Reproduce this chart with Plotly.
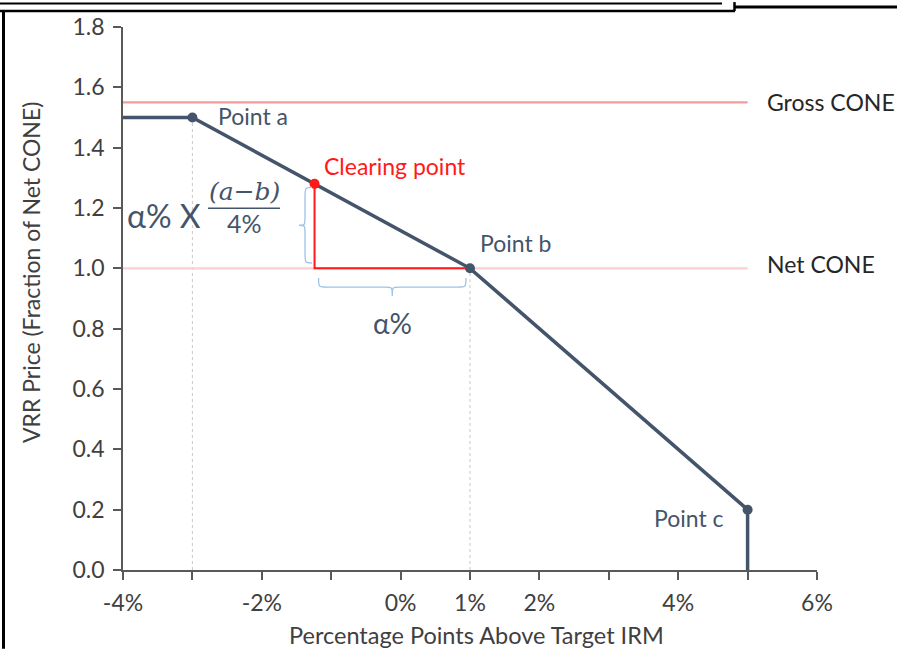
import plotly.graph_objects as go

# ---------------- data ----------------
vrr_x = [-4, -3, 1, 5, 5]            # % points above target IRM
vrr_y = [1.5, 1.5, 1.0, 0.2, 0.0]    # fraction of Net CONE
point_names = ["Point a", "Point b", "Point c"]
point_x = [-3, 1, 5]
point_y = [1.5, 1.0, 0.2]
clearing_x = -1.24
clearing_y = 1.28
gross_cone = 1.55
net_cone = 1.0
x_tickvals = [-4, -3, -2, -1, 0, 1, 2, 3, 4, 5, 6]
x_ticktext = ["-4%", "", "-2%", "", "0%", "1%", "2%", "", "4%", "", "6%"]
y_tickvals = [0.0, 0.2, 0.4, 0.6, 0.8, 1.0, 1.2, 1.4, 1.6, 1.8]

# ---------------- layout constants ----------------
W, H = 897, 649
L, R, T, B = 123, 817, 25, 570
X0, X1 = -4, 6
Y0, Y1 = 0, 1.8
SLATE = "#44546A"
RED = "#FF1A1A"
FONT = "Lato"

def px2x(px):
    return X0 + (px - L) / (R - L) * (X1 - X0)

def py2y(py):
    return Y0 + (B - py) / (B - T) * (Y1 - Y0)

def pxp(px):
    return (px - L) / (R - L)

def pyp(py):
    return (B - py) / (B - T)

fig = go.Figure()

# guide lines (dotted grey) from axis to points a and b
for xv, yv in [(point_x[0], point_y[0]), (point_x[1], point_y[1])]:
    fig.add_trace(go.Scatter(x=[xv, xv], y=[0, yv], mode="lines",
                             line=dict(color="#C8C8C8", width=1, dash="dot"),
                             hoverinfo="skip", showlegend=False))

# Gross / Net CONE lines
fig.add_trace(go.Scatter(x=[X0, point_x[2]], y=[gross_cone, gross_cone], mode="lines",
                         line=dict(color="#F59A9A", width=2.2), showlegend=False))
fig.add_trace(go.Scatter(x=[X0, point_x[2]], y=[net_cone, net_cone], mode="lines",
                         line=dict(color="#FAD0D0", width=2.2), showlegend=False))

# red triangle
fig.add_trace(go.Scatter(x=[clearing_x, clearing_x, point_x[1]],
                         y=[clearing_y, net_cone, net_cone], mode="lines",
                         line=dict(color=RED, width=2), showlegend=False))

# VRR curve
fig.add_trace(go.Scatter(x=vrr_x, y=vrr_y, mode="lines",
                         line=dict(color=SLATE, width=3.5), showlegend=False))
fig.add_trace(go.Scatter(x=point_x, y=point_y, mode="markers",
                         marker=dict(color=SLATE, size=10), showlegend=False))
fig.add_trace(go.Scatter(x=[clearing_x], y=[clearing_y], mode="markers",
                         marker=dict(color=RED, size=10), showlegend=False))

ann = []
lab_font = dict(family=FONT, size=23, color=SLATE)
# point labels
ann.append(dict(x=point_x[0], y=point_y[0], text="Point a", xanchor="left", yanchor="middle",
                xshift=24, yshift=2, showarrow=False, font=lab_font))
ann.append(dict(x=point_x[1], y=point_y[1], text="Point b", xanchor="left", yanchor="middle",
                xshift=8, yshift=25, showarrow=False, font=lab_font))
ann.append(dict(x=point_x[2], y=point_y[2], text="Point c", xanchor="right", yanchor="middle",
                xshift=-22, yshift=-8, showarrow=False, font=lab_font))
ann.append(dict(x=clearing_x, y=clearing_y, text="Clearing point", xanchor="left", yanchor="middle",
                xshift=7, yshift=18, showarrow=False, font=dict(family=FONT, size=23, color=RED)))
ann.append(dict(x=point_x[2], y=gross_cone, text="Gross CONE", xanchor="left", yanchor="middle",
                xshift=17, yshift=0, showarrow=False, font=dict(family=FONT, size=23, color="#262626")))
ann.append(dict(x=point_x[2], y=net_cone, text="Net CONE", xanchor="left", yanchor="middle",
                xshift=17, yshift=4, showarrow=False, font=dict(family=FONT, size=23, color="#262626")))

# formula
ann.append(dict(x=px2x(164), y=py2y(214), text="α% X", xanchor="center", yanchor="middle",
                showarrow=False, font=dict(family=FONT, size=32, color=SLATE)))
ann.append(dict(x=px2x(244), y=py2y(190), text="<i>(a−b)</i>", xanchor="center", yanchor="middle",
                showarrow=False, font=dict(family="DejaVu Serif", size=25, color=SLATE)))
ann.append(dict(x=px2x(244), y=py2y(222), text="4%", xanchor="center", yanchor="middle",
                showarrow=False, font=dict(family=FONT, size=25, color=SLATE)))
ann.append(dict(x=(clearing_x + point_x[1]) / 2, y=py2y(322), text="α%", xanchor="center",
                yanchor="middle", showarrow=False, font=dict(family=FONT, size=28, color=SLATE)))

# axis titles
ann.append(dict(xref="paper", yref="paper", x=pxp(476), y=pyp(635), text="Percentage Points Above Target IRM",
                xanchor="center", yanchor="middle", showarrow=False,
                font=dict(family=FONT, size=23.5, color="#404040")))
ann.append(dict(xref="paper", yref="paper", x=pxp(31), y=pyp(272), text="VRR Price (Fraction of Net CONE)",
                textangle=-90, xanchor="center", yanchor="middle", showarrow=False,
                font=dict(family=FONT, size=23, color="#404040")))

shapes = []
# fraction bar
shapes.append(dict(type="line", x0=px2x(208), x1=px2x(280), y0=py2y(207), y1=py2y(207),
                   line=dict(color=SLATE, width=1.5)))

BRACE = "#9DC3E6"
# vertical brace left of red vertical line
bx_r = px2x(312)
bx_m = px2x(305)
bx_l = px2x(299)
yt, yb = py2y(186), py2y(262)
ym = (yt + yb) / 2
path_v = (f"M {bx_r},{yt} C {bx_m},{yt} {bx_m},{yt} {bx_m},{yt - (yt-ym)*0.3} "
          f"L {bx_m},{ym + (yt-ym)*0.25} C {bx_m},{ym} {bx_m},{ym} {bx_l},{ym} "
          f"C {bx_m},{ym} {bx_m},{ym} {bx_m},{ym - (yt-ym)*0.25} "
          f"L {bx_m},{yb + (yt-ym)*0.3} C {bx_m},{yb} {bx_m},{yb} {bx_r},{yb}")
shapes.append(dict(type="path", path=path_v, line=dict(color=BRACE, width=1.3)))

# horizontal brace below red horizontal line
inset = px2x(127) - px2x(123)
hx_l, hx_r = clearing_x + inset, point_x[1] - inset
hxm = (hx_l + hx_r) / 2
hy_t = py2y(277)
hy_m = py2y(286)
hy_b = py2y(295)
dx = (hx_r - hx_l)
path_h = (f"M {hx_l},{hy_t} C {hx_l},{hy_m} {hx_l},{hy_m} {hx_l + dx*0.06},{hy_m} "
          f"L {hxm - dx*0.05},{hy_m} C {hxm},{hy_m} {hxm},{hy_m} {hxm},{hy_b} "
          f"C {hxm},{hy_m} {hxm},{hy_m} {hxm + dx*0.05},{hy_m} "
          f"L {hx_r - dx*0.06},{hy_m} C {hx_r},{hy_m} {hx_r},{hy_m} {hx_r},{hy_t}")
shapes.append(dict(type="path", path=path_h, line=dict(color=BRACE, width=1.3)))

# outer frame (cropped screenshot borders)
def fline(x0, y0, x1, y1, w):
    shapes.append(dict(type="line", xref="paper", yref="paper",
                       x0=pxp(x0), x1=pxp(x1), y0=pyp(y0), y1=pyp(y1),
                       line=dict(color="black", width=w)))

fline(0, 1.5, 722, 1.5, 2)
fline(0, 9, 735, 9, 2.5)
fline(734.5, 0, 734.5, 9, 2.5)
fline(735, 5, 897, 5, 3)
fline(3.5, 9, 3.5, 649, 3)

axis_common = dict(showgrid=False, zeroline=False, showline=True, linecolor="#595959",
                   linewidth=1.5, ticks="outside", ticklen=8, tickwidth=1.5, tickcolor="#595959",
                   tickfont=dict(family=FONT, size=23, color="#404040"))

fig.update_layout(
    width=W, height=H,
    margin=dict(l=L, r=W - R, t=T, b=H - B, pad=0),
    paper_bgcolor="white", plot_bgcolor="white",
    xaxis=dict(range=[X0, X1], tickvals=x_tickvals, ticktext=x_ticktext, **axis_common),
    yaxis=dict(range=[Y0, Y1], tickvals=y_tickvals, tickformat=".1f",
               ticklabelstandoff=4, **axis_common),
    annotations=ann, shapes=shapes, showlegend=False,
)
fig.update_xaxes(ticklabelstandoff=4)

fig.write_html("out.html", config={"displayModeBar": False},
               post_script="document.body.style.margin='0';document.body.style.overflow='hidden';")
